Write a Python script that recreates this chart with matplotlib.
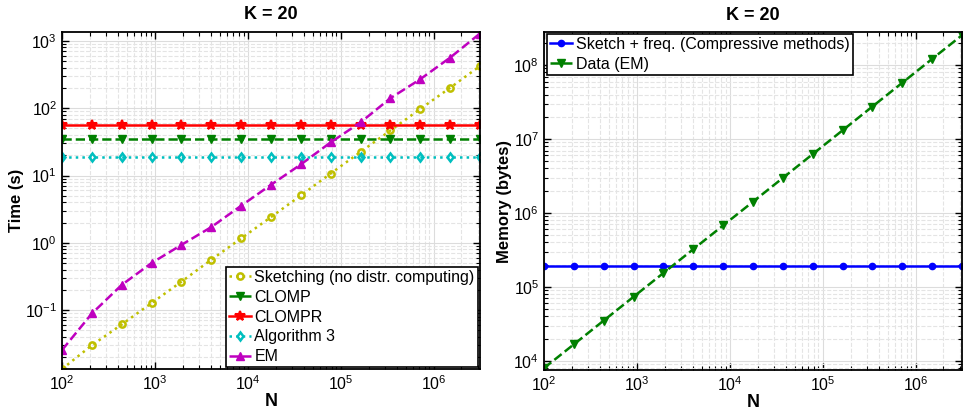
import numpy as np
import matplotlib
matplotlib.use("Agg")
import matplotlib.pyplot as plt
from matplotlib.ticker import LogLocator, NullFormatter

plt.rcParams['font.family'] = ['Liberation Sans', 'DejaVu Sans']
plt.rcParams['mathtext.fontset'] = 'custom'
plt.rcParams['mathtext.rm'] = 'Liberation Sans'

########
# data #
########
N = [100, 210, 439, 921, 1931, 4047, 8483, 17783, 37276, 78137,
     163789, 343332, 719686, 1508600, 3162278]

# time (s)
t_sketch = [0.0133, 0.030, 0.061, 0.127, 0.264, 0.56, 1.16, 2.41, 5.05, 10.7,
            22.4, 46.7, 97.6, 201, 424]
t_clomp = [34.4] * 15
t_clompr = [56.5] * 15
t_alg3 = [18.7] * 15
t_em = [0.0254, 0.089, 0.236, 0.50, 0.93, 1.71, 3.55, 7.28, 14.6, 31.1,
        61.6, 141, 270, 565, 1290]

# memory (bytes)
m_sketch = [1.92e5] * 15
m_data = [8000, 16800, 35100, 73700, 154500, 323800, 678600, 1.42e6, 2.98e6,
          6.25e6, 1.31e7, 2.75e7, 5.76e7, 1.21e8, 2.53e8]

leg_opts = dict(borderaxespad=0, handlelength=1.4, handletextpad=0.2,
                labelspacing=0.3, borderpad=0.2, fontsize=11.5,
                fancybox=False, edgecolor='black', framealpha=1)

########
# plot #
########
fig = plt.figure(figsize=(9.63, 4.12), dpi=100)
ax1 = fig.add_axes([0.0644, 0.1044, 0.434, 0.818])
ax2 = fig.add_axes([0.5649, 0.102, 0.434, 0.82])

ax1.plot(N, t_sketch, ':o', color='#bfbf00', lw=1.8, ms=4.5, mfc='none', mew=1.8,
         label='Sketching (no distr. computing)')
ax1.plot(N, t_clomp, '--v', color='#008000', lw=1.8, ms=5.5, label='CLOMP')
ax1.plot(N, t_clompr, '-*', color='#ff0000', lw=1.8, ms=7, mew=1.5, label='CLOMPR')
ax1.plot(N, t_alg3, ':d', color='#00bfbf', lw=1.8, ms=4.5, mfc='none', mew=1.8,
         label='Algorithm 3')
ax1.plot(N, t_em, '--^', color='#bf00bf', lw=1.8, ms=5.5, label='EM')
ax1.set_ylim(0.0133, 1360)
ax1.set_ylabel('Time (s)', fontsize=12, fontweight='bold', labelpad=1)
ax1.legend(loc='lower right', bbox_to_anchor=(0.995, 0.005), **leg_opts)

ax2.plot(N, m_sketch, '-o', color='#0000ff', lw=1.8, ms=4.5,
         label='Sketch + freq. (Compressive methods)')
ax2.plot(N, m_data, '--v', color='#008000', lw=1.8, ms=5.5, label='Data (EM)')
ax2.set_ylim(7550, 2.79e8)
ax2.set_ylabel('Memory (bytes)', fontsize=12, fontweight='bold', labelpad=1)
ax2.legend(loc='upper left', bbox_to_anchor=(0.007, 0.995), **leg_opts)

for ax in [ax1, ax2]:
    ax.set_xscale('log')
    ax.set_yscale('log')
    ax.set_xlim(100, 3162278)
    ax.set_title('K = 20', fontsize=13, fontweight='bold', pad=9)
    ax.set_xlabel('N', fontsize=13, fontweight='bold', labelpad=0)
    ax.xaxis.set_major_locator(LogLocator(base=10, numticks=20))
    ax.yaxis.set_major_locator(LogLocator(base=10, numticks=20))
    ax.xaxis.set_minor_locator(LogLocator(base=10, subs=np.arange(2, 10), numticks=20))
    ax.yaxis.set_minor_locator(LogLocator(base=10, subs=np.arange(2, 10), numticks=20))
    ax.xaxis.set_minor_formatter(NullFormatter())
    ax.yaxis.set_minor_formatter(NullFormatter())
    ax.grid(True, which='major', color='#dcdcdc', ls='-', lw=0.8)
    ax.grid(True, which='minor', color='#e4e4e4', ls='--', lw=0.8)
    ax.set_axisbelow(True)
    ax.tick_params(which='both', direction='in', top=True, right=True, labelsize=11.5)
    ax.tick_params(which='major', length=5, width=1)
    ax.tick_params(which='minor', length=3, width=0.8)
    for s in ax.spines.values():
        s.set_linewidth(1.3)
    ax.get_legend().get_frame().set_linewidth(1.2)

fig.savefig('out.png', dpi=100)
